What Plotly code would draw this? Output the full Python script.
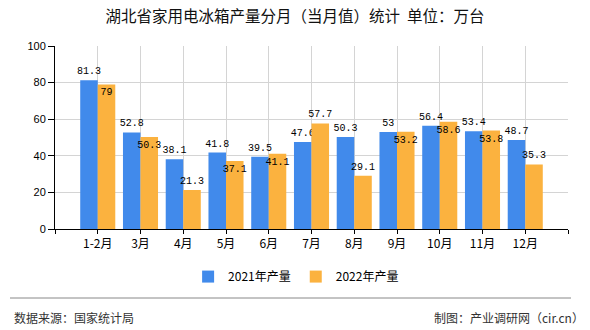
import plotly.graph_objects as go

categories = ["1-2月", "3月", "4月", "5月", "6月", "7月", "8月", "9月", "10月", "11月", "12月"]
prod_2021 = [81.3, 52.8, 38.1, 41.8, 39.5, 47.6, 50.3, 53, 56.4, 53.4, 48.7]
prod_2022 = [79, 50.3, 21.3, 37.1, 41.1, 57.7, 29.1, 53.2, 58.6, 53.8, 35.3]
series_names = ["2021年产量", "2022年产量"]
y_ticks = [0, 20, 40, 60, 80, 100]

BLUE = "#418aeb"
ORANGE = "#fbb23f"
LABEL_FONT = dict(family="Liberation Mono, DejaVu Sans Mono, monospace", size=10, color="#000000")
CJK = "Noto Sans CJK SC, Noto Sans, sans-serif"

xs = list(range(len(categories)))
# orange labels sit inside the bar top when they would collide with the blue label
pos_2022 = ["inside" if abs(a - b) < 8 else "outside" for a, b in zip(prod_2021, prod_2022)]

fig = go.Figure()
fig.add_trace(go.Bar(
    x=xs, y=prod_2021, name=series_names[0], marker=dict(color=BLUE, line=dict(width=0)),
    text=[f"{v:g}" for v in prod_2021], textposition="outside", textangle=0,
    constraintext="none", outsidetextfont=LABEL_FONT, insidetextfont=LABEL_FONT,
    cliponaxis=False,
))
fig.add_trace(go.Bar(
    x=xs, y=prod_2022, name=series_names[1], marker=dict(color=ORANGE, line=dict(width=0)),
    text=[f"{v:g}" for v in prod_2022], textposition=pos_2022, textangle=0,
    insidetextanchor="end", constraintext="none",
    outsidetextfont=LABEL_FONT, insidetextfont=LABEL_FONT, cliponaxis=False,
))

n = len(categories)
fig.update_layout(
    width=590, height=330,
    margin=dict(l=55, r=22, t=46, b=101),
    paper_bgcolor="white", plot_bgcolor="white",
    barmode="group", bargap=0.18, bargroupgap=0,
    font=dict(family=CJK, size=12, color="#000000"),
    title=dict(text="湖北省家用电冰箱产量分月（当月值）统计  单位：万台",
               x=0.5, xref="container", xanchor="center",
               y=1 - 17 / 330, yref="container", yanchor="middle",
               font=dict(family=CJK, size=15.5, color="#111111")),
    showlegend=True,
    legend=dict(orientation="h", x=0.47, xanchor="center", y=-0.26, yanchor="middle",
                font=dict(family=CJK, size=12, color="#000000"),
                itemsizing="constant", traceorder="normal", bgcolor="rgba(0,0,0,0)"),
    xaxis=dict(
        range=[-1, n], tickmode="array",
        tickvals=list(range(-1, n + 1)), ticktext=[""] + categories + [""],
        showgrid=True, gridcolor="#d4d4d4", gridwidth=1, zeroline=False,
        showline=True, linecolor="#000000", linewidth=1,
        ticks="outside", ticklen=4, tickcolor="#000000",
        tickfont=dict(family=CJK, size=12, color="#000000"),
    ),
    yaxis=dict(
        range=[0, 100], tickmode="array", tickvals=y_ticks,
        showgrid=True, gridcolor="#d4d4d4", gridwidth=1, zeroline=False,
        showline=True, linecolor="#000000", linewidth=1,
        ticks="outside", ticklen=6, tickcolor="#000000",
        tickfont=dict(family="Liberation Sans, Arial, sans-serif", size=11, color="#000000"),
    ),
    shapes=[dict(type="line", xref="paper", yref="paper",
                 x0=(10 - 55) / 513, x1=(571 - 55) / 513,
                 y0=(229 - 298) / 183, y1=(229 - 298) / 183,
                 line=dict(color="#888888", width=1))],
    annotations=[
        dict(text="数据来源：国家统计局", xref="paper", yref="paper",
             x=(12 - 55) / 513, y=(229 - 317) / 183, xanchor="left", yanchor="middle",
             showarrow=False, font=dict(family=CJK, size=12, color="#333333")),
        dict(text="制图：产业调研网（cir.cn）", xref="paper", yref="paper",
             x=(586 - 55) / 513, y=(229 - 317) / 183, xanchor="right", yanchor="middle",
             showarrow=False, font=dict(family=CJK, size=12, color="#333333")),
    ],
)

fig.write_html("out.html")
